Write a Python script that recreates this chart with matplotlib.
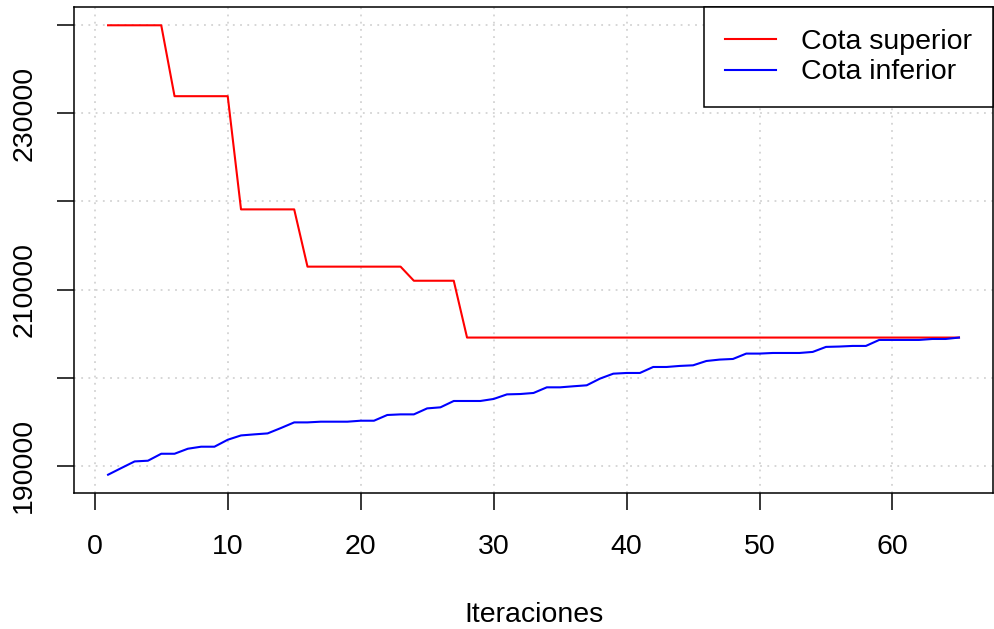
import matplotlib
matplotlib.use("Agg")
import matplotlib.pyplot as plt

iteraciones = list(range(1, 66))

cota_superior = (
    [240000] * 5 + [231950] * 5 + [219100] * 5 + [212600] * 8 + [211000] * 4 + [204550] * 38
)

cota_inferior = [
    188980, 189740, 190490, 190570, 191360, 191360, 191930, 192160, 192160, 192950,
    193440, 193560, 193670, 194280, 194920, 194920, 195000, 195000, 195000, 195110,
    195110, 195760, 195830, 195830, 196510, 196630, 197350, 197350, 197350, 197580,
    198100, 198140, 198260, 198900, 198900, 199020, 199130, 199890, 200450, 200530,
    200530, 201210, 201210, 201330, 201400, 201890, 202050, 202120, 202730, 202730,
    202800, 202800, 202800, 202920, 203490, 203530, 203600, 203600, 204280, 204280,
    204280, 204280, 204390, 204390, 204550,
]

x_ticks = [0, 10, 20, 30, 40, 50, 60]
y_ticks = [190000, 200000, 210000, 220000, 230000, 240000]
y_tick_labels = ["190000", "", "210000", "", "230000", ""]

plt.rcParams["font.family"] = ["Liberation Sans", "DejaVu Sans"]
FS = 20.5

fig = plt.figure(figsize=(9.95, 6.29), dpi=100)
ax = fig.add_axes([0.0744, 0.2167, 0.9236, 0.7717])

ax.plot(iteraciones, cota_superior, color="red", lw=1.5, label="Cota superior", zorder=3)
ax.plot(iteraciones, cota_inferior, color="blue", lw=1.5, label="Cota inferior", zorder=3)

xmin, xmax = min(iteraciones), max(iteraciones)
allv = cota_superior + cota_inferior
ymin, ymax = min(allv), max(allv)
xr = (xmax - xmin) * 0.04
yr = (ymax - ymin) * 0.04
ax.set_xlim(xmin - xr, xmax + xr)
ax.set_ylim(ymin - yr, ymax + yr)

ax.set_xticks(x_ticks)
ax.set_xticklabels([str(v) for v in x_ticks])
ax.set_yticks(y_ticks)
ax.set_yticklabels(y_tick_labels, rotation=90, va="center")

for v in x_ticks:
    ax.axvline(v, color="lightgray", lw=1.3, ls=(0, (1, 3)), zorder=1)
for v in y_ticks:
    ax.axhline(v, color="lightgray", lw=1.3, ls=(0, (1, 3)), zorder=1)

ax.tick_params(axis="both", direction="out", length=12.5, width=1.1, labelsize=FS, color="black")
ax.tick_params(axis="x", pad=17.5)
ax.tick_params(axis="y", pad=14)
for s in ax.spines.values():
    s.set_linewidth(1.1)
    s.set_color("black")

ax.set_xlabel("Iteraciones", fontsize=FS, labelpad=30)

leg = ax.legend(loc="upper right", bbox_to_anchor=(1, 1), borderaxespad=0,
                fontsize=FS, frameon=True, fancybox=False, framealpha=1,
                edgecolor="black", handlelength=1.77, handletextpad=0.87,
                borderpad=0.75, labelspacing=0.17)
leg.get_frame().set_linewidth(1.1)

fig.savefig("out.png", dpi=100)
